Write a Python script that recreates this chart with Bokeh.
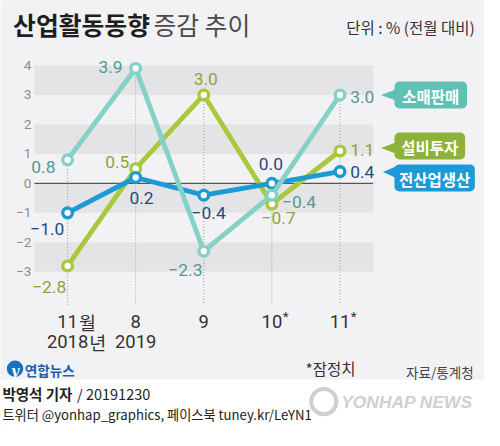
from bokeh.plotting import figure
from bokeh.models import ColumnDataSource, Range1d, Label, BoxAnnotation
from bokeh.core.properties import value
from bokeh.embed import file_html
from bokeh.resources import INLINE

# ---------------- data ----------------
categories = ["11", "8", "9", "10", "11"]
category_suffix = ["월", "", "", "", ""]
provisional_mark = ["", "", "", "*", "*"]
years = ["2018", "2019", "", "", ""]
year_suffix = ["년", "", "", "", ""]
series_names = ["소매판매", "설비투자", "전산업생산"]
retail = [0.8, 3.9, -2.3, -0.4, 3.0]
equipment = [-2.8, 0.5, 3.0, -0.7, 1.1]
industry = [-1.0, 0.2, -0.4, 0.0, 0.4]
y_ticks = [-3, -2, -1, 0, 1, 2, 3, 4]
band_bottoms = [3, 1, -1, -3]
band_tops = [4, 2, 0, -2]

# ---------------- layout helpers ----------------
W, H = 484, 430
SX, SY = W / 500.0, H / 446.0
CAT0_PX, STEP_PX, ZERO_PX, UNIT_PX = 69.3, 70.35, 189.7, 30.57


def dx(rx):
    return (rx - CAT0_PX) / STEP_PX


def dy(ry):
    return (ZERO_PX - ry) / UNIT_PX


def fs(s):
    return f"{s * SX:.1f}px"


def fmt(v):
    return f"{v:.1f}".replace("-", "−")


KR = "Noto Sans CJK KR"
NUM = "Roboto"

p = figure(width=W, height=H, x_range=Range1d(dx(0), dx(500)),
           y_range=Range1d(dy(446), dy(0)), output_backend="svg",
           toolbar_location=None, x_axis_location=None, y_axis_location=None,
           min_border=0)
p.grid.visible = False
p.outline_line_color = None
p.background_fill_color = "#f2f2f4"
p.border_fill_color = "#f2f2f4"

# footer strip
p.quad(left=dx(-20), right=dx(520), bottom=dy(470), top=dy(393),
       fill_color="white", line_color=None)

# bands
p.quad(left=dx(35), right=dx(385), bottom=band_bottoms, top=band_tops,
       fill_color="#e4e4e6", line_color=None)

xs = list(range(len(categories)))

# zero line
p.segment(x0=[dx(35)], y0=[0], x1=[dx(385)], y1=[0], line_color="#555555",
          line_width=1.3)

# dotted drop lines
tops = [max(a, b, c) for a, b, c in zip(retail, equipment, industry)]
p.segment(x0=xs, y0=tops, x1=xs, y1=[dy(316)] * len(xs), line_color="#9a9a9a",
          line_width=1, line_dash="1 2")

# y tick labels
p.text(x=[dx(32)] * len(y_ticks), y=y_ticks,
       text=[str(t).replace("-", "−") for t in y_ticks],
       text_align="right", text_baseline="middle", text_font=value(NUM),
       text_font_size=fs(14), text_color="#8c8c8c")

# series
series = [
    (equipment, "#a9c93c", "#8aa53a",
     [-19, -19, 2, 7, 23], [22, -7, -17, 15, -1]),
    (industry, "#1b9ad6", "#1d4c7c",
     [-21, 6, 5, -1, 23], [17, 21, 18, -20, 0]),
    (retail, "#86d1c7", "#4f9a93",
     [-25, -26, -19, 28, 23], [7, -2, 19, 7, 2]),
]
for vals, lc, tc, xo, yo in series:
    p.line(xs, vals, line_width=5 * SX, line_color=lc, line_join="round")
    p.scatter(xs, vals, size=10 * SX, fill_color="white", line_color=lc,
              line_width=3.5 * SX)
for vals, lc, tc, xo, yo in series:
    src = ColumnDataSource(dict(x=xs, y=vals, t=[fmt(v) for v in vals],
                                xo=[o * SX for o in xo], yo=[o * SY for o in yo]))
    p.text(x="x", y="y", text="t", x_offset="xo", y_offset="yo", source=src,
           text_align="center", text_baseline="middle", text_font=value(NUM),
           text_font_size=fs(18), text_color=tc)

# x labels
XFS = 19
DIGIT = 0.56 * XFS * SX
p.text(x=xs, y=[dy(333)] * len(xs), text=categories, text_align="center",
       text_baseline="middle", text_font=value(NUM), text_font_size=fs(XFS),
       text_color="#333333")
suf = ColumnDataSource(dict(x=xs, y=[dy(333)] * len(xs), t=category_suffix,
                            xo=[len(c) * DIGIT / 2 + 1 for c in categories]))
p.text(x="x", y="y", text="t", x_offset="xo", source=suf, text_align="left",
       text_baseline="middle", text_font=value(KR), text_font_size=fs(XFS),
       text_color="#333333")
star = ColumnDataSource(dict(x=xs, y=[dy(327)] * len(xs), t=provisional_mark,
                             xo=[len(c) * DIGIT / 2 + 0.5 for c in categories]))
p.text(x="x", y="y", text="t", x_offset="xo", source=star, text_align="left",
       text_baseline="middle", text_font=value(NUM), text_font_size=fs(14),
       text_color="#333333")
p.text(x=xs, y=[dy(354)] * len(xs), text=years, text_align="center",
       text_baseline="middle", text_font=value(NUM), text_font_size=fs(XFS),
       text_color="#333333")
ysuf = ColumnDataSource(dict(x=xs, y=[dy(354)] * len(xs), t=year_suffix,
                             xo=[len(c) * DIGIT / 2 + 1 for c in years]))
p.text(x="x", y="y", text="t", x_offset="xo", source=ysuf, text_align="left",
       text_baseline="middle", text_font=value(KR), text_font_size=fs(XFS),
       text_color="#333333")

# legend boxes
legend_fill = ["#5fc0b3", "#8db23a", "#1b9ad7"]
legend_box = [(407, 482, 84, 112), (407, 480, 137, 165), (407, 490, 170, 198)]
legend_tip = [(393, 98), (393, 153), (395, 178)]
for name, col, (l, r, t, b), (tx, ty) in zip(series_names, legend_fill,
                                              legend_box, legend_tip):
    p.add_layout(BoxAnnotation(left=dx(l), right=dx(r), top=dy(t), bottom=dy(b),
                               fill_color=col, fill_alpha=1, line_color=None,
                               border_radius=5))
    p.patch(x=[dx(tx), dx(l + 2), dx(l + 2)], y=[dy(ty), dy(ty - 6), dy(ty + 6)],
            fill_color=col, line_color=None)
    p.add_layout(Label(x=dx((l + r) / 2), y=dy((t + b) / 2 + 1), text=name,
                       text_align="center", text_baseline="middle",
                       text_font=KR, text_font_style="bold",
                       text_font_size=fs(16), text_color="white"))

# title & unit
p.add_layout(Label(x=dx(13), y=dy(24), text="산업활동동향", text_font=KR,
                   text_font_style="bold", text_font_size=fs(25.6),
                   text_baseline="middle", text_color="#1e1e1e"))
p.add_layout(Label(x=dx(158), y=dy(24), text="증감 추이", text_font=KR,
                   text_font_size=fs(25.6), text_baseline="middle",
                   text_color="#4a4a4a"))
p.add_layout(Label(x=dx(490), y=dy(27), text="단위 : % (전월 대비)", text_font=KR,
                   text_font_size=fs(16), text_align="right",
                   text_baseline="middle", text_color="#333333"))

# bottom notes
p.scatter([dx(15)], [dy(382)], size=17 * SX, fill_color="#1a6fc0",
          line_color=None)
p.add_layout(Label(x=dx(15), y=dy(383), text="y", text_font="DejaVu Serif",
                   text_font_style="bold italic", text_font_size=fs(14),
                   text_align="center", text_baseline="middle",
                   text_color="white"))
p.add_layout(Label(x=dx(25), y=dy(383), text="연합뉴스", text_font=KR,
                   text_font_style="bold", text_font_size=fs(14),
                   text_baseline="middle", text_color="#1f5fae"))
p.add_layout(Label(x=dx(315), y=dy(381), text="*잠정치", text_font=KR,
                   text_font_size=fs(16), text_baseline="middle",
                   text_color="#333333"))
p.add_layout(Label(x=dx(489), y=dy(385), text="자료/통계청", text_font=KR,
                   text_font_size=fs(14), text_align="right",
                   text_baseline="middle", text_color="#444444"))

# footer
p.add_layout(Label(x=dx(2), y=dy(408), text="박영석 기자", text_font=KR,
                   text_font_style="bold", text_font_size=fs(15),
                   text_baseline="middle", text_color="#222222"))
p.add_layout(Label(x=dx(79), y=dy(408), text="/ 20191230", text_font=KR,
                   text_font_size=fs(15), text_baseline="middle",
                   text_color="#222222"))
p.add_layout(Label(x=dx(2), y=dy(429), text="트위터 @yonhap_graphics, 페이스북 tuney.kr/LeYN1",
                   text_font=KR, text_font_size=fs(13.6), text_baseline="middle",
                   text_color="#222222"))

# watermark
p.scatter([dx(334)], [dy(416)], size=26 * SX, fill_color=None,
          line_color="#cfcfcf", line_width=4)
p.add_layout(Label(x=dx(352), y=dy(416), text="YONHAP NEWS",
                   text_font="Liberation Sans", text_font_style="bold italic",
                   text_font_size=fs(18), text_baseline="middle",
                   text_color="#d0d0d0"))

open("out.html", "w").write(file_html(p, INLINE))
